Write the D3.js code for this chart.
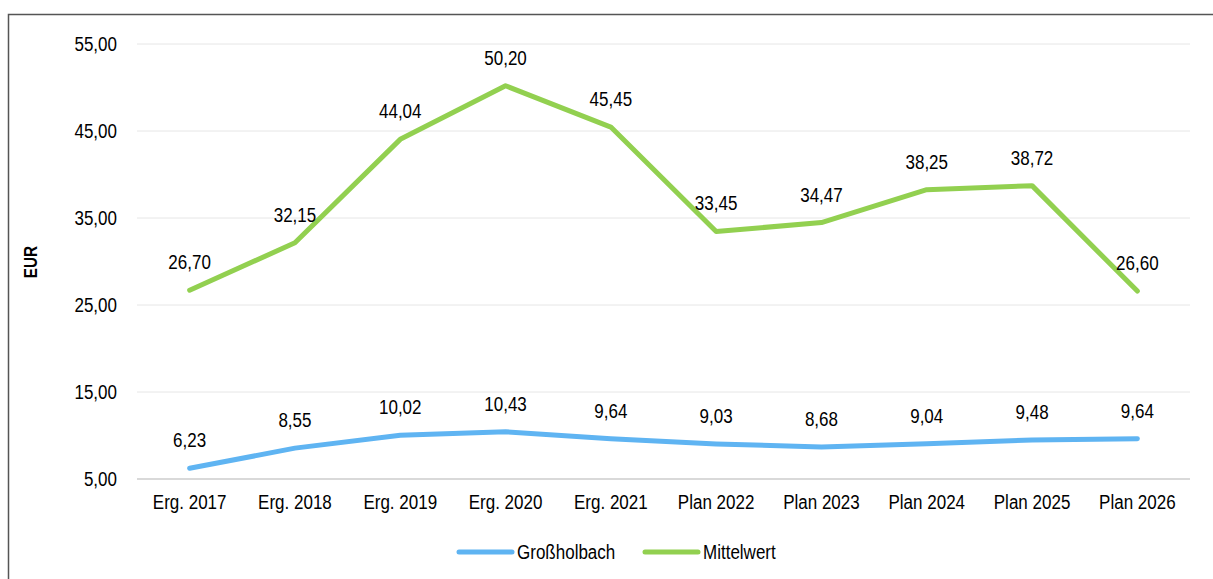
<!DOCTYPE html>
<html>
<head>
<meta charset="utf-8">
<script src="https://cdn.jsdelivr.net/npm/d3@7"></script>
<style>
  body { margin: 0; background: #fff; }
  #chart { position: absolute; left: 0; top: 0; }
  text { font-family: "Liberation Sans", Arial, sans-serif; }
</style>
</head>
<body>
<div id="chart"></div>
<script>
var categories = ["Erg. 2017", "Erg. 2018", "Erg. 2019", "Erg. 2020", "Erg. 2021",
  "Plan 2022", "Plan 2023", "Plan 2024", "Plan 2025", "Plan 2026"];
var grossholbach = [6.23, 8.55, 10.02, 10.43, 9.64, 9.03, 8.68, 9.04, 9.48, 9.64];
var mittelwert = [26.70, 32.15, 44.04, 50.20, 45.45, 33.45, 34.47, 38.25, 38.72, 26.60];
var yTicks = [5, 15, 25, 35, 45, 55];

var series = [
  { name: "Großholbach", values: grossholbach, color: "#5fb4f2" },
  { name: "Mittelwert", values: mittelwert, color: "#92d050" }
];

var width = 1213, height = 579;
var margin = { top: 44, right: 23, bottom: 100, left: 137 };
var innerW = width - margin.left - margin.right;
var innerH = height - margin.top - margin.bottom;
var fs = 20;
var squeeze = 0.85; // text in the original is horizontally condensed

var fmt = function(v) { return v.toFixed(2).replace(".", ","); };

// condense text by its natural width
function narrow(sel) {
  sel.each(function() {
    var w = this.getComputedTextLength();
    d3.select(this)
      .attr("textLength", w * squeeze)
      .attr("lengthAdjust", "spacingAndGlyphs");
  });
}

var svg = d3.select("#chart").append("svg")
  .attr("width", width)
  .attr("height", height);

// outer frame
svg.append("path")
  .attr("d", "M8.5," + height + " V14.5 H" + width)
  .attr("fill", "none")
  .attr("stroke", "#555")
  .attr("stroke-width", 1.5);

var g = svg.append("g")
  .attr("transform", "translate(" + margin.left + "," + margin.top + ")");

var x = d3.scaleBand().domain(categories).range([0, innerW]);
var y = d3.scaleLinear().domain([5, 55]).range([innerH, 0]);

// gridlines
g.selectAll("line.grid")
  .data(yTicks)
  .enter().append("line")
    .attr("class", "grid")
    .attr("x1", 0).attr("x2", innerW)
    .attr("y1", function(d) { return y(d); })
    .attr("y2", function(d) { return y(d); })
    .attr("stroke", function(d) { return d === 5 ? "#d9d9d9" : "#e6e6e6"; })
    .attr("stroke-width", function(d) { return d === 5 ? 2 : 1; });

// y axis
var yAxis = d3.axisLeft(y).tickValues(yTicks).tickFormat(fmt).tickSize(0).tickPadding(20);
var ya = g.append("g").call(yAxis).attr("font-family", null);
ya.select(".domain").remove();
ya.selectAll("text")
  .attr("font-size", fs)
  .attr("fill", "#000")
  .call(narrow);

// x axis
var xAxis = d3.axisBottom(x).tickSize(0).tickPadding(16);
var xa = g.append("g")
  .attr("transform", "translate(0," + innerH + ")")
  .call(xAxis)
  .attr("font-family", null);
xa.select(".domain").remove();
xa.selectAll("text")
  .attr("font-size", fs)
  .attr("fill", "#000")
  .call(narrow);

// y title
svg.append("text")
  .attr("transform", "translate(37,262) rotate(-90)")
  .attr("text-anchor", "middle")
  .attr("font-size", 18)
  .attr("font-weight", "bold")
  .text("EUR")
  .call(narrow);

var line = d3.line()
  .x(function(d, i) { return x(categories[i]) + x.bandwidth() / 2; })
  .y(function(d) { return y(d); });

series.forEach(function(s) {
  g.append("path")
    .datum(s.values)
    .attr("fill", "none")
    .attr("stroke", s.color)
    .attr("stroke-width", 5)
    .attr("stroke-linecap", "round")
    .attr("stroke-linejoin", "round")
    .attr("d", line);

  g.selectAll(null)
    .data(s.values)
    .enter().append("text")
      .attr("x", function(d, i) { return x(categories[i]) + x.bandwidth() / 2; })
      .attr("y", function(d) { return y(d) - 21; })
      .attr("text-anchor", "middle")
      .attr("font-size", fs)
      .attr("fill", "#000")
      .text(fmt)
      .call(narrow);
});

// legend
var legend = svg.append("g").attr("transform", "translate(459,552)");
var lx = [0, 186];
series.forEach(function(s, i) {
  var lg = legend.append("g").attr("transform", "translate(" + lx[i] + ",0)");
  lg.append("line")
    .attr("x1", 0).attr("x2", 53)
    .attr("stroke", s.color)
    .attr("stroke-width", 5)
    .attr("stroke-linecap", "round");
  lg.append("text")
    .attr("x", 58)
    .attr("y", 7)
    .attr("font-size", fs)
    .attr("fill", "#000")
    .text(s.name)
    .call(narrow);
});
</script>
</body>
</html>
